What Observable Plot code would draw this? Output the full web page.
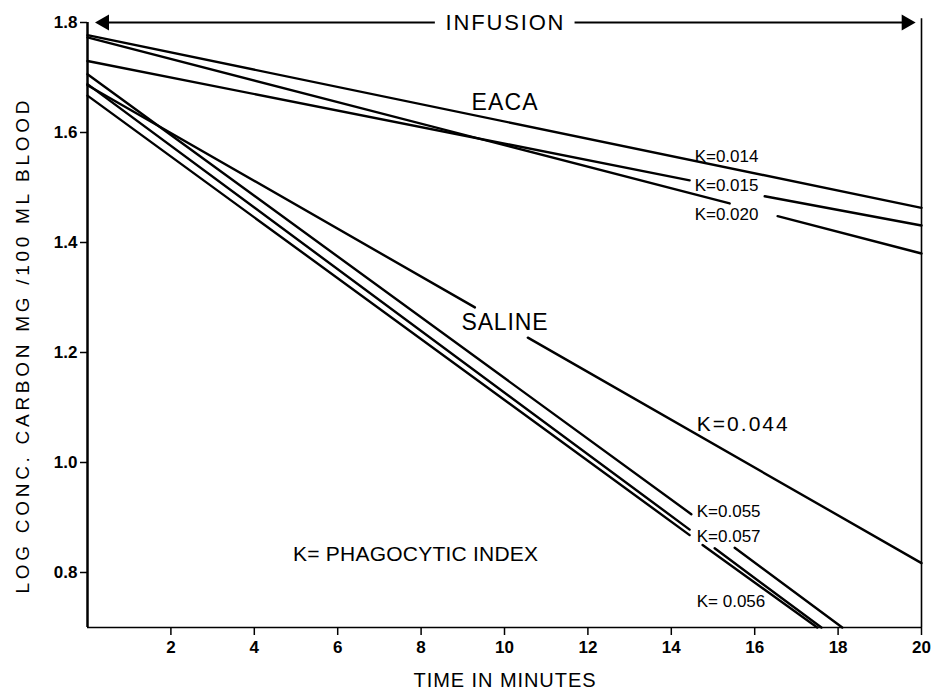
<!DOCTYPE html>
<html><head><meta charset="utf-8">
<script src="https://cdn.jsdelivr.net/npm/d3@7"></script>
<script src="https://cdn.jsdelivr.net/npm/@observablehq/plot@0.6"></script>
<style>
body{margin:0;background:#fff;}
#chart svg{display:block}
#chart g[aria-label$="tick label"] text{font-weight:bold}
</style></head><body><div id="chart"></div>
<script>
// ---- axes ----
const xTicks = [2, 4, 6, 8, 10, 12, 14, 16, 18, 20];
const yTicks = [0.8, 1.0, 1.2, 1.4, 1.6, 1.8];
const xDomain = [0, 20];
const yDomain = [0.7, 1.8];

// ---- curves (null = break where the label interrupts the line) ----
const seriesNames = ["K=0.014", "K=0.015", "K=0.020", "K=0.044", "K=0.055", "K=0.057", "K=0.056"];
const k014X = [0, 20];                       const k014Y = [1.777, 1.463];
const k015X = [0, 14.44, 15.3, 16.24, 20];   const k015Y = [1.730, 1.513, null, 1.484, 1.431];
const k020X = [0, 15.40, 16.0, 16.55, 20];   const k020Y = [1.773, 1.471, null, 1.448, 1.380];
const k044X = [0, 9.29, 9.9, 10.56, 20];     const k044Y = [1.686, 1.282, null, 1.227, 0.817];
const k055X = [0, 14.48, 15.0, 15.52, 18.10]; const k055Y = [1.706, 0.906, null, 0.845, 0.70];
const k057X = [0, 14.44, 14.7, 15.04, 17.60]; const k057Y = [1.688, 0.878, null, 0.844, 0.70];
const k056X = [0, 14.44, 14.6, 14.75, 17.50]; const k056Y = [1.667, 0.868, null, 0.850, 0.70];

// ---- labels ----
const kLabelText = ["K=0.014", "K=0.015", "K=0.020", "K=0.055", "K=0.057", "K= 0.056"];
const kLabelX = [14.56, 14.56, 14.56, 14.61, 14.61, 14.61];
const kLabelY = [1.5565, 1.5027, 1.450, 0.9117, 0.866, 0.7468];
const bigKText = ["K=0.044"];
const bigKX = [14.61];
const bigKY = [1.069];
const groupText = ["EACA", "SALINE"];
const groupX = [10, 10];
const groupY = [1.655, 1.255];
const noteText = ["K= PHAGOCYTIC INDEX"];
const noteX = [4.93];
const noteY = [0.8324];
const infusionText = ["INFUSION"];
const infusionX = [10];
const infusionY = [1.8];
const arrowFromX = [8.33, 11.68];
const arrowToX = [0.26, 19.78];
const xTitle = "TIME IN MINUTES";
const yTitle = "LOG CONC. CARBON MG /100 ML BLOOD";

const curves = [[k014X, k014Y], [k015X, k015Y], [k020X, k020Y], [k044X, k044Y], [k055X, k055Y], [k057X, k057Y], [k056X, k056Y]];
const rows = curves.flatMap(([xs, ys], j) => xs.map((x, i) => ({curve: seriesNames[j], x, y: ys[i]})));
const tbl = (t, xs, ys) => t.map((s, i) => ({text: s, x: xs[i], y: ys[i]}));
const arrows = arrowFromX.map((x, i) => ({x1: x, x2: arrowToX[i], y: infusionY[0]}));

const font = "'Liberation Sans', Arial, sans-serif";
const chart = Plot.plot({
  width: 936, height: 692,
  marginLeft: 87, marginRight: 15, marginTop: 22, marginBottom: 65,
  style: {fontFamily: font, fontSize: "17px", color: "#000", background: "#fff"},
  x: {domain: xDomain, label: null},
  y: {domain: yDomain, label: null},
  marks: [
    Plot.axisX({ticks: xTicks, tickSize: 8, tickPadding: 5, tickFormat: d => String(d), fontSize: 17, label: null, strokeWidth: 1.5}),
    Plot.axisY({ticks: yTicks, tickSize: 7, tickPadding: 3, tickFormat: d3.format(".1f"), fontSize: 17, label: null, strokeWidth: 1.5}),
    Plot.ruleX([xDomain[0]], {y1: yDomain[0], y2: yDomain[1], stroke: "black", strokeWidth: 2.5}),
    Plot.ruleX([xDomain[1]], {y1: yDomain[0], y2: 1.807, stroke: "black", strokeWidth: 1.6}),
    Plot.ruleY([yDomain[0]], {x1: xDomain[0], x2: xDomain[1], stroke: "black", strokeWidth: 1.6}),
    Plot.line(rows, {x: "x", y: "y", z: "curve", stroke: "black", strokeWidth: 2.4}),
    Plot.link(arrows, {x1: "x1", x2: "x2", y1: "y", y2: "y", stroke: "black", strokeWidth: 1.8}),
    Plot.dot(arrows.slice(0, 1), {x: "x2", y: "y", symbol: "triangle", r: 6, fill: "black", stroke: null, rotate: -90, dx: 6}),
    Plot.dot(arrows.slice(1), {x: "x2", y: "y", symbol: "triangle", r: 6, fill: "black", stroke: null, rotate: 90, dx: -6}),
    Plot.text(tbl(infusionText, infusionX, infusionY), {x: "x", y: "y", text: "text", fontSize: 22, fill: "black"}),
    Plot.text(tbl(groupText, groupX, groupY), {x: "x", y: "y", text: "text", fontSize: 23, fill: "black"}),
    Plot.text(tbl(kLabelText, kLabelX, kLabelY), {x: "x", y: "y", text: "text", fontSize: 17, textAnchor: "start", fill: "black"}),
    Plot.text(tbl(bigKText, bigKX, bigKY), {x: "x", y: "y", text: "text", fontSize: 21, textAnchor: "start", fill: "black"}),
    Plot.text(tbl(noteText, noteX, noteY), {x: "x", y: "y", text: "text", fontSize: 21, textAnchor: "start", fill: "black"}),
    Plot.text([xTitle], {frameAnchor: "bottom", dy: 53, fontSize: 20, lineAnchor: "middle", textAnchor: "middle", fill: "black"}),
    Plot.text([yTitle], {frameAnchor: "left", dx: -65, dy: 22, rotate: -90, fontSize: 19, textAnchor: "middle", lineAnchor: "middle", fill: "black"})
  ]
});
document.getElementById("chart").appendChild(chart);

// widen the hand-lettered titles to the reference lettering widths
const widths = new Map([[yTitle, 493], [xTitle, 182], ["INFUSION", 118], ["SALINE", 86], ["EACA", 66],
  ["K= PHAGOCYTIC INDEX", 245], ["K=0.044", 91]]);
d3.select(chart).selectAll("text").each(function () {
  const w = widths.get(this.textContent);
  if (w) { this.setAttribute("textLength", w); this.setAttribute("lengthAdjust", "spacing"); }
});
</script></body></html>
